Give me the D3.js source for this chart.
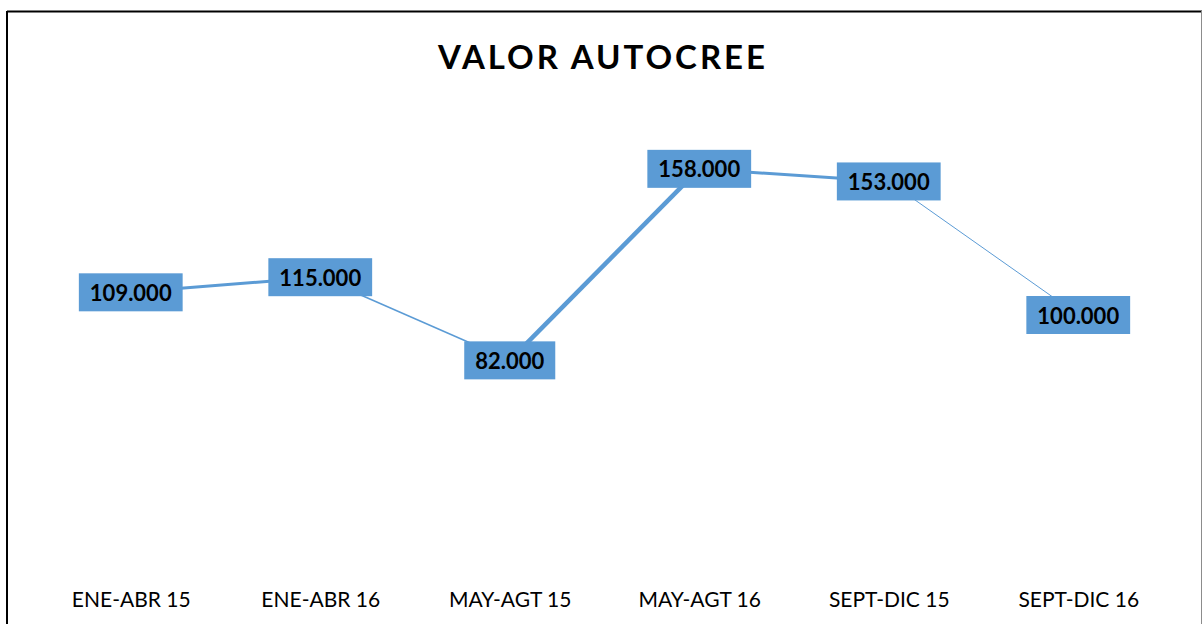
<!DOCTYPE html>
<html>
<head>
<meta charset="utf-8">
<script src="https://cdn.jsdelivr.net/npm/d3@7"></script>
<style>
  html, body { margin: 0; padding: 0; background: #fff; }
  svg { display: block; }
</style>
</head>
<body>
<div id="chart"></div>
<script>
// datos del grafico
const categorias = ["ENE-ABR 15", "ENE-ABR 16", "MAY-AGT 15", "MAY-AGT 16", "SEPT-DIC 15", "SEPT-DIC 16"];
const valores = [109000, 115000, 82000, 158000, 153000, 100000];
const titulo = "VALOR AUTOCREE";

// grosor de cada tramo de la linea (tal como se ve en la imagen)
const grosorTramos = [3, 1.6, 4.5, 3, 1];

const width = 1203, height = 624;
const azul = "#5B9BD5";

const svg = d3.select("#chart")
    .append("svg")
    .attr("width", width)
    .attr("height", height);

// marco del grafico
svg.append("line").attr("x1", 7).attr("x2", 1202).attr("y1", 11.5).attr("y2", 11.5)
    .attr("stroke", "#000").attr("stroke-width", 2);
svg.append("line").attr("x1", 7).attr("x2", 7).attr("y1", 11).attr("y2", height)
    .attr("stroke", "#000").attr("stroke-width", 2);
svg.append("line").attr("x1", 1201.5).attr("x2", 1201.5).attr("y1", 11).attr("y2", height)
    .attr("stroke", "#8c8c8c").attr("stroke-width", 1);

// escalas
const x = d3.scalePoint()
    .domain(categorias)
    .range([36, 1173])
    .padding(0.5);

const y = d3.scaleLinear()
    .domain([0, 180000])
    .range([567, 113.4]);

// titulo
const t = svg.append("text")
    .attr("x", 601.5)
    .attr("y", 69)
    .attr("text-anchor", "middle")
    .style("font-family", "Lato, 'Open Sans', sans-serif")
    .style("font-weight", "bold")
    .style("font-size", "33px")
    .attr("fill", "#000")
    .text(titulo);
t.attr("textLength", 327).attr("lengthAdjust", "spacing");

// eje X (solo etiquetas)
const ejeX = svg.append("g")
    .attr("transform", `translate(0,${y(0)})`)
    .call(d3.axisBottom(x).tickSize(0).tickPadding(0));
ejeX.select(".domain").remove();
ejeX.selectAll("text")
    .attr("y", 0)
    .attr("dy", "39.7px")
    .style("font-family", "Lato, 'Open Sans', sans-serif")
    .style("font-size", "21px")
    .attr("fill", "#000");

// linea por tramos
const puntos = valores.map((v, i) => [x(categorias[i]), y(v)]);
const tramos = d3.pairs(puntos);
svg.append("g")
    .selectAll("line")
    .data(tramos)
    .enter()
    .append("line")
    .attr("x1", d => d[0][0])
    .attr("y1", d => d[0][1])
    .attr("x2", d => d[1][0])
    .attr("y2", d => d[1][1])
    .attr("stroke", azul)
    .attr("stroke-width", (d, i) => grosorTramos[i])
    .attr("stroke-linecap", "butt");

// etiquetas de datos
const fmt = v => d3.format(",")(v).replace(/,/g, ".");
const etiquetas = svg.append("g")
    .selectAll("g")
    .data(valores)
    .enter()
    .append("g")
    .attr("transform", (d, i) => `translate(${x(categorias[i])},${y(d)})`);

const cajas = etiquetas.append("rect")
    .attr("fill", azul);

const textos = etiquetas.append("text")
    .attr("text-anchor", "middle")
    .attr("y", 8.5)
    .style("font-family", "Lato, 'Open Sans', sans-serif")
    .style("font-weight", "bold")
    .style("font-size", "22px")
    .attr("fill", "#000")
    .text(d => fmt(d));

textos.each(function (d, i) {
    const w = this.getComputedTextLength() + 22;
    d3.select(cajas.nodes()[i])
        .attr("x", -w / 2)
        .attr("y", -19)
        .attr("width", w)
        .attr("height", 38);
});
</script>
</body>
</html>
